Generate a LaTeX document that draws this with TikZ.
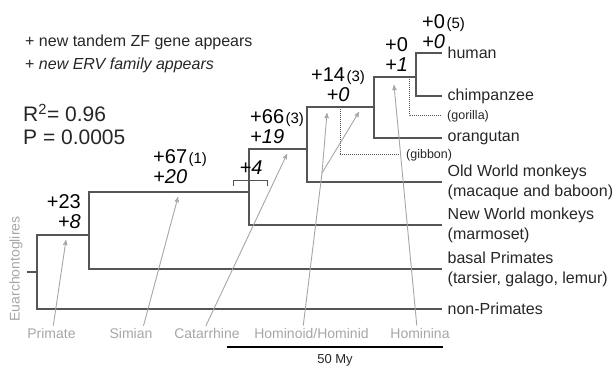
\documentclass[tikz,border=0pt]{standalone}
\usepackage{fontspec}
\setmainfont{Liberation Sans}
\usepackage{xcolor}
\usepackage{tikz}
\usetikzlibrary{arrows}
\definecolor{treegray}{HTML}{555555}
\definecolor{textgray}{HTML}{262626}
\definecolor{cladegray}{HTML}{A6A6A6}
\tikzset{
    branch/.style = {draw=treegray, line width=1.3pt},
    dots/.style = {draw=treegray, densely dotted, line width=1pt},
    leaf_node/.style = {anchor=west, align=left, inner xsep=5.5pt, inner ysep=0pt, text=textgray, font=\fontsize{16}{20}\selectfont},
    lost_node/.style = {anchor=west, inner xsep=5pt, inner ysep=0pt, text=textgray, font=\fontsize{12.5}{15}\selectfont},
    gain_node/.style = {inner sep=0pt, text=black, font=\fontsize{20}{20}\selectfont},
    clade_node/.style = {inner sep=0pt, text=cladegray, font=\fontsize{14}{16}\selectfont},
    clade_arrow/.style = {->, draw=cladegray, line width=0.9pt, shorten <=2pt}
}
\newcommand{\nzf}[1]{\kern1.5pt{\fontsize{15}{15}\selectfont(#1)}}

\begin{document}
\begin{tikzpicture}[x=1pt, y=-1pt, >=stealth']
    \useasboundingbox (0,0) rectangle (616,366);
    % legend
    \node [anchor=west, inner sep=0pt, text=textgray, font=\fontsize{16}{20}\selectfont] (key-zf) at (25,42) {+ new tandem ZF gene appears};
    \node [anchor=west, inner sep=0pt, text=textgray, font=\fontsize{16}{20}\selectfont] (key-erv) at (25,65) {+ \textit{new ERV family appears}};
    \node [anchor=west, inner sep=0pt, text=textgray, font=\fontsize{21}{24}\selectfont] (rsq) at (23,113) {R\textsuperscript{2}= 0.96};
    \node [anchor=west, inner sep=0pt, text=textgray, font=\fontsize{21}{24}\selectfont] (pval) at (23,137) {P = 0.0005};
    % internal nodes
    \coordinate (stem) at (27,272);
    \coordinate (n-root) at (37,272);
    \coordinate (n-prim) at (89,235);
    \coordinate (n-sim) at (249,192);
    \coordinate (n-cat) at (307,149);
    \coordinate (n-hmd) at (374,107);
    \coordinate (n-hom) at (416,77);
    \coordinate (x-gib) at (340,107);
    \coordinate (x-gor) at (409,77);
    % leaves
    \node [leaf_node] (human) at (442,53) {human};
    \node [leaf_node] (chimp) at (442,96) {chimpanzee};
    \node [lost_node] (gorilla) at (442,116) {(gorilla)};
    \node [leaf_node] (orang) at (442,138) {orangutan};
    \node [lost_node] (gibbon) at (401,155) {(gibbon)};
    \node [leaf_node] (owm) at (442,182) {Old World monkeys\\(macaque and baboon)};
    \node [leaf_node] (nwm) at (442,225) {New World monkeys\\(marmoset)};
    \node [leaf_node] (basal) at (442,269) {basal Primates\\(tarsier, galago, lemur)};
    \node [leaf_node] (nonp) at (442,309) {non-Primates};
    % tree
    \draw [branch] (stem) -- (n-root);
    \draw [branch] (human.west) -| (n-hom) |- (chimp.west);
    \draw [branch] (n-hom) -| (n-hmd) |- (orang.west);
    \draw [branch] (n-hmd) -| (n-cat) |- (owm.west);
    \draw [branch] (n-cat) -| (n-sim) |- (nwm.west);
    \draw [branch] (n-sim) -| (n-prim) |- (basal.west);
    \draw [branch] (n-prim) -| (n-root) |- (nonp.west);
    \draw [dots] (x-gor) |- (gorilla.west);
    \draw [dots] (x-gib) |- (gibbon.west);
    \draw [branch, line width=1pt] (n-sim) ++(-16,-6) -- ++(0,-5) -- ++(34,0) -- ++(0,5);
    % gains
    \node [gain_node, anchor=east, align=right] (g-prim) at (81,212) {+23\\\textit{+8}};
    \node [gain_node, anchor=west, align=left] (g-sim) at (153,167) {+67\nzf{1}\\\textit{+20}};
    \node [gain_node] (g-erv) at (251,168) {\textit{+4}};
    \node [gain_node, anchor=west, align=left] (g-cat) at (250,127) {+66\nzf{3}\\\textit{+19}};
    \node [gain_node, align=center] (g-hmd) at (338,85) {+14\nzf{3}\\\textit{+0}};
    \node [gain_node, anchor=west, align=left] (g-hom) at (385,55) {+0\\\textit{+1}};
    \node [gain_node, anchor=west, align=left] (g-hmn) at (422,32) {+0\nzf{5}\\\textit{+0}};
    % clades
    \node [clade_node, rotate=90] (euarch) at (16,269) {Euarchontoglires};
    \node [clade_node] (primate) at (51.5,333) {Primate};
    \node [clade_node] (simian) at (131,333) {Simian};
    \node [clade_node] (catarr) at (207,333) {Catarrhine};
    \node [clade_node] (hominoid) at (311.5,333) {Hominoid/Hominid};
    \node [clade_node] (hominina) at (420,333) {Hominina};
    \coordinate (a-prim) at (66,240);
    \coordinate (a-sim) at (178,197);
    \coordinate (a-cat) at (287,154);
    \coordinate (s-hmd) at (322,173);
    \coordinate (a-hmd1) at (327,113);
    \coordinate (a-hmd2) at (359,112);
    \coordinate (a-hmn) at (394,85);
    \draw [clade_arrow] ([xshift=1.5pt]primate.north) -- (a-prim);
    \draw [clade_arrow] ([xshift=12pt]simian.north) -- (a-sim);
    \draw [clade_arrow] ([xshift=-2pt]catarr.north) -- (a-cat);
    \draw [clade_arrow, -] ([xshift=-8.5pt]hominoid.north) -- (s-hmd);
    \draw [clade_arrow, shorten <=0pt] (s-hmd) -- (a-hmd1);
    \draw [clade_arrow, shorten <=0pt] (s-hmd) -- (a-hmd2);
    \draw [clade_arrow] ([xshift=-3pt]hominina.north) -- (a-hmn);
    % scale
    \coordinate (bar-l) at (227,347);
    \coordinate (bar-r) at (443,347);
    \draw [line width=1.5pt] (bar-l) -- (bar-r);
    \node [inner sep=0pt, text=textgray, font=\fontsize{13}{15}\selectfont] (my) at (335,360) {50 My};
\end{tikzpicture}
\end{document}
